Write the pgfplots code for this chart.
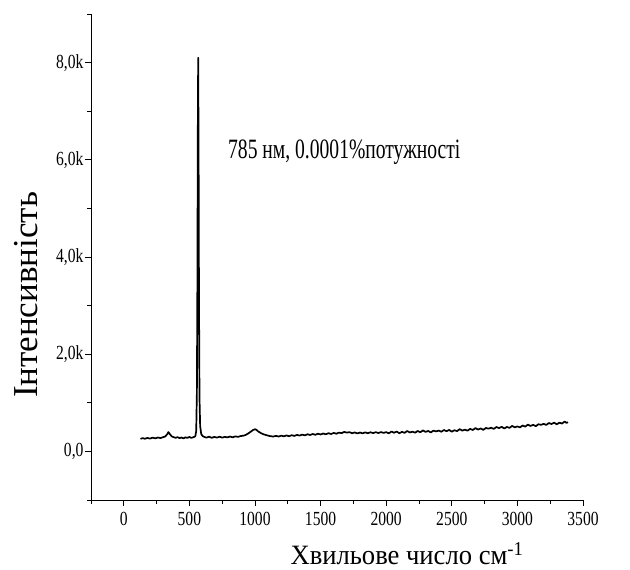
\documentclass[border=0pt]{standalone}
\usepackage{pgfplots}
\pgfplotsset{compat=1.18}
\usepackage{fontspec}
\setmainfont{Liberation Serif}
\newfontfamily\tickfont[FakeStretch=0.78]{Liberation Serif}
\newfontfamily\notefont[FakeStretch=0.7]{Liberation Serif}
\newfontfamily\labfont[FakeStretch=0.95]{Liberation Serif}
\newcommand\tf{\tickfont\fontsize{20}{20}\selectfont}

\begin{document}
\begin{tikzpicture}[x=1pt,y=1pt]
% frame of the reference picture (630 x 570)
\path[use as bounding box] (-91,-70) rectangle (539,500);
\begin{axis}[
  at={(0,0)}, anchor=south west,
  scale only axis, width=492pt, height=486pt,
  xmin=-250, xmax=3500, ymin=-1000, ymax=9000,
  axis x line*=bottom, axis y line*=left,
  axis line style={line width=0.8pt,-},
  tick align=outside, tick style={line width=0.8pt,black},
  major tick length=6pt, minor tick length=4pt,
  xtick={0,500,...,3500},
  xticklabels={{\tf 0},{\tf 500},{\tf 1000},{\tf 1500},{\tf 2000},{\tf 2500},{\tf 3000},{\tf 3500}},
  minor xtick={-250,250,750,1250,1750,2250,2750,3250},
  ytick={0,2000,4000,6000,8000},
  yticklabels={{\tf 0,0},{\tf 2,0k},{\tf 4,0k},{\tf 6,0k},{\tf 8,0k}},
  minor ytick={-1000,1000,3000,5000,7000,9000},
  /pgf/number format/assume math mode=true,
  xticklabel style={yshift=-3pt},
  yticklabel style={xshift=2pt},
  clip=false,
]
\addplot[black, line width=1.7pt, line join=round] coordinates {
(127,258) (145,274) (160,260) (180,277) (200,264) (220,283) (240,268) (260,286)
(280,274) (300,294) (315,305) (330,350) (340,398) (350,360) (365,310) (380,292)
(395,280) (410,293) (425,274) (440,286) (455,268) (470,290) (485,277) (500,298)
(515,278) (530,292) (545,310) (552,420) (557,1200) (561,3500) (564,6500) (567,8100)
(570,6200) (573,3200) (577,1100) (582,520) (590,360) (600,318) (615,296) (630,284)
(650,302) (670,280) (690,298) (710,284) (730,302) (750,283) (770,300) (790,288)
(810,306) (830,290) (850,310) (870,298) (890,316) (910,322) (930,340) (950,372)
(970,410) (985,440) (1000,455) (1010,445) (1025,410) (1040,385) (1060,356) (1080,340)
(1100,324) (1120,312) (1140,306) (1160,320) (1180,306) (1200,324) (1220,310) (1240,328)
(1260,312) (1280,334) (1300,318) (1320,340) (1340,326) (1360,346) (1380,330) (1400,352)
(1420,338) (1440,358) (1460,342) (1480,364) (1500,348) (1520,368) (1540,353) (1560,374)
(1580,358) (1600,380) (1620,364) (1640,386) (1660,376) (1680,402) (1700,386) (1720,396)
(1740,374) (1760,390) (1780,370) (1800,388) (1820,372) (1840,392) (1860,374) (1880,394)
(1900,376) (1920,396) (1940,378) (1960,398) (1980,380)
(2000,397) (2020,372) (2040,408) (2060,384) (2080,409) (2100,373) (2120,403) (2140,382)
(2160,420) (2180,389) (2200,406) (2220,385) (2240,420) (2260,394) (2280,431) (2300,401)
(2320,421) (2340,390) (2360,428) (2380,411) (2400,429) (2420,404) (2440,440) (2460,416)
(2480,441) (2500,405) (2520,436) (2540,418) (2560,457) (2580,428) (2600,447) (2620,427)
(2640,464) (2660,440) (2680,479) (2700,450) (2720,472) (2740,443) (2760,482) (2780,468)
(2800,487) (2820,463) (2840,502) (2860,479) (2880,506) (2900,472) (2920,503) (2940,484)
(2960,524) (2980,495) (3000,513) (3020,495) (3040,533) (3060,510) (3080,551) (3100,523)
(3120,546) (3140,519) (3160,559) (3180,546) (3200,567) (3220,544) (3240,584) (3260,563)
(3280,591) (3300,558) (3320,591) (3340,573) (3360,614) (3375,586) (3385,603)
};
\node[anchor=base west, inner sep=0pt, font=\notefont\fontsize{28}{28}\selectfont]
  at (axis cs:794,6027) {785 нм, 0.0001\%потужності};
\end{axis}
\node[rotate=90, anchor=center, inner sep=0pt, font=\fontsize{35}{35}\selectfont]
  at (-65,205) {Інтенсивність};
\node[anchor=base, inner sep=0pt, font=\labfont\fontsize{28}{28}\selectfont]
  at (316,-65) {Хвильове число см\textsuperscript{-1}};
\end{tikzpicture}
\end{document}
